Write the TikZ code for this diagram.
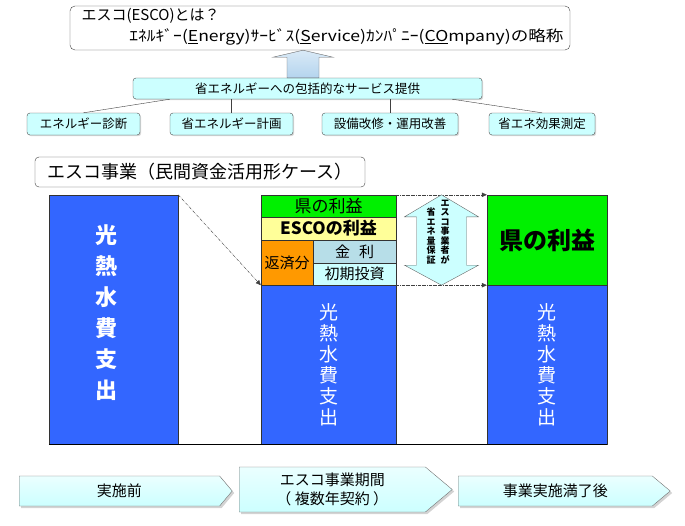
\documentclass[tikz,border=0pt]{standalone}
\usepackage{fontspec}
\setmainfont{Noto Sans CJK JP}
\usetikzlibrary{arrows.meta,shapes.symbols,shadows,calc}
\definecolor{escoblue}{HTML}{3366FF}
\definecolor{escogreen}{HTML}{00F000}
\definecolor{escoyellow}{HTML}{FFFF99}
\definecolor{escoorange}{HTML}{FF9900}
\definecolor{escograyblue}{HTML}{B7DEE8}
\definecolor{escocyan}{HTML}{CCFFFF}
\definecolor{escoarrow}{HTML}{B4D4EE}
\begin{document}
\begin{tikzpicture}[
  x=1pt,y=-1pt,
  font=\fontsize{12.5}{15}\selectfont,
  frame/.style={draw=black!75,rounded corners=5pt,fill=white,inner sep=0pt},
  item/.style={draw=black!70,rounded corners=3pt,fill=escocyan,inner sep=0pt,
    minimum height=22pt,
    drop shadow={opacity=.3,shadow xshift=1.2pt,shadow yshift=-1.2pt}},
  bar/.style={draw=black!80,fill=escoblue,inner sep=0pt,text=white,align=center},
  cell/.style={draw=black!80,inner sep=0pt,align=center},
  vtext/.style={align=center,text=white},
  stage/.style={signal,signal to=east,draw=black!55,anchor=west,
    top color=escocyan!40!white,bottom color=escocyan,
    inner sep=0pt,align=center,
    drop shadow={opacity=.35,shadow xshift=2pt,shadow yshift=-2pt},
    font=\fontsize{15}{19}\selectfont},
  dasharr/.style={-{Triangle[length=5pt,width=4.5pt]},densely dash dot,
    draw=black!75,thin},
  link/.style={draw=black!75,thin}
]
\useasboundingbox (0,0) rectangle (685,525);

\node[frame,minimum width=500pt,minimum height=44pt] (esco) at (320,28) {};
\node[anchor=west,font=\fontsize{15}{18}\selectfont] (escoq) at (78,16)
  {エスコ(ESCO)とは？};
\node[anchor=east,font=\fontsize{15}{18}\selectfont] (escofull) at (567,37)
  {\scalebox{1.17}[1]{ｴﾈﾙｷﾞｰ(\underline{E}nergy)ｻｰﾋﾞｽ(\underline{S}ervice)ｶﾝﾊﾟﾆｰ(\underline{CO}mpany)の略称}};

\node[item,minimum width=349pt,minimum height=21pt] (service) at (307.5,88.5)
  {省エネルギーへの包括的なサービス提供};
\node[item,minimum width=113pt] (diag) at (83.5,124) {エネルギー診断};
\node[item,minimum width=123pt] (plan) at (231.5,124) {省エネルギー計画};
\node[item,minimum width=136pt] (renov) at (390,124) {設備改修・運用改善};
\node[item,minimum width=106pt] (measure) at (542,124) {省エネ効果測定};

\coordinate (upbase) at ([xshift=-4.5pt]service.north);
\coordinate (uptip) at (upbase |- esco.south);
\shade[draw=black!60,top color=escoarrow!50!white,bottom color=escoarrow]
  ($(upbase)+(-16,0)$) -- ($(uptip)+(-16,7)$) -- ($(uptip)+(-30,7)$)
  -- (uptip) -- ($(uptip)+(30,7)$) -- ($(uptip)+(16,7)$)
  -- ($(upbase)+(16,0)$) -- cycle;

\draw[link] ([xshift=37pt]service.south west) -- (diag.north);
\draw[link] (plan.north) -- (plan.north |- service.south);
\draw[link] (renov.north) -- (renov.north |- service.south);
\draw[link] ([xshift=-30pt]service.south east) -- (measure.north);

\node[frame,rounded corners=4pt,minimum width=330pt,minimum height=30pt,
  font=\fontsize{18}{20}\selectfont] (case) at (200,172)
  {エスコ事業（民間資金活用形ケース）};

\node[bar,minimum width=129pt,minimum height=249pt] (pastbar) at (113.5,319.5) {};
\node[vtext,font=\bfseries\fontsize{22}{31}\selectfont] (pasttext) at (106,313)
  {光\\熱\\水\\費\\支\\出};

\node[cell,fill=escogreen,minimum width=135pt,minimum height=22pt,
  font=\fontsize{17}{17}\selectfont] (citygain) at (328.5,206) {県の利益};
\node[cell,fill=escoyellow,minimum width=135pt,minimum height=23pt,
  font=\bfseries\fontsize{17}{17}\selectfont] (escogain) at (328.5,228.5) {ESCOの利益};
\node[cell,fill=escoorange,minimum width=52pt,minimum height=45pt,
  font=\fontsize{15}{15}\selectfont] (repay) at (287,262.5) {返済分};
\node[cell,fill=escograyblue,minimum width=83pt,minimum height=23pt,
  font=\fontsize{15}{15}\selectfont] (interest) at (354.5,251.5) {金\hspace{.6em}利};
\node[cell,fill=escocyan,minimum width=83pt,minimum height=22pt,
  font=\fontsize{15}{15}\selectfont] (invest) at (354.5,274) {初期投資};
\node[bar,minimum width=135pt,minimum height=159pt,
  font=\fontsize{19}{21}\selectfont] (midbar) at (328.5,364.5)
  {光\\熱\\水\\費\\支\\出};

\node[cell,fill=escogreen,minimum width=120pt,minimum height=90pt,
  font=\bfseries\fontsize{24}{24}\selectfont] (citygain2) at (547,240) {県の利益};
\node[bar,minimum width=120pt,minimum height=159pt,
  font=\fontsize{19}{21}\selectfont] (postbar) at (547,364.5)
  {光\\熱\\水\\費\\支\\出};

\draw[semithick] (pastbar.south west) -- (postbar.south east);

\draw[dasharr] (pastbar.north east) -- (repay.south west);
\draw[dasharr] (citygain.north east) -- (citygain2.north west);
\draw[dasharr] (invest.south east) -- (citygain2.south west);

\coordinate (gtop) at ($(citygain.north east)!.5!(citygain2.north west)$);
\coordinate (gbot) at ($(invest.south east)!.5!(citygain2.south west)$);
\draw[draw=black!60,fill=escocyan] (gtop) -- ++(37,22) -- ++(-12,0)
  -- ($(gbot)+(25,-20)$) -- ++(12,0) -- (gbot) -- ++(-37,-20) -- ++(12,0)
  -- ($(gtop)+(-25,22)$) -- ++(-12,0) -- cycle;
\node[align=center,font=\bfseries\fontsize{9}{9.5}\selectfont] (guar1) at (445,232)
  {エ\\ス\\コ\\事\\業\\者\\が};
\node[align=center,font=\bfseries\fontsize{9}{9.5}\selectfont] (guar2) at (431,236)
  {省\\エ\\ネ\\量\\保\\証};

\node[stage,minimum width=213pt,minimum height=30pt,signal pointer angle=100]
  (before) at (19,491) {実施前};
\node[stage,minimum width=213pt,minimum height=45pt,signal pointer angle=80]
  (during) at (239,489.5) {エスコ事業期間\\（ 複数年契約 ）};
\node[stage,minimum width=212pt,minimum height=30pt,signal pointer angle=80]
  (after) at (458,491) {事業実施満了後};
\end{tikzpicture}
\end{document}
